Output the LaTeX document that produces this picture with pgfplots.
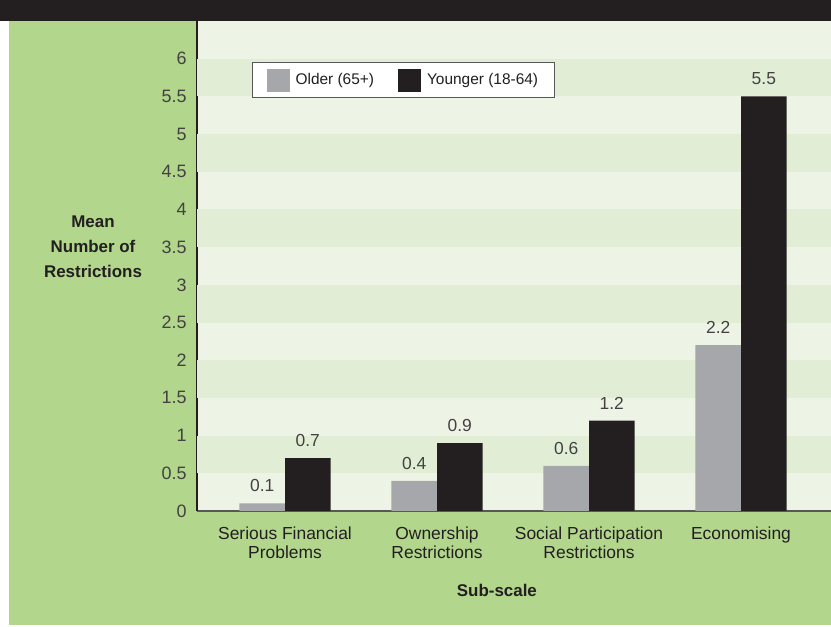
\documentclass[border=0pt]{standalone}
\usepackage{pgfplots}
\pgfplotsset{compat=1.18}
\usepackage{fontspec}
\setmainfont{Liberation Sans}
\definecolor{bgreen}{HTML}{B1D68C}
\definecolor{dark}{HTML}{231F20}
\definecolor{older}{HTML}{A6A7AB}
\definecolor{stripeA}{HTML}{EEF4E5}
\definecolor{stripeB}{HTML}{E1EED5}
\pgfplotsset{sqleg/.style={legend image code/.code={\fill[##1] (0bp,-11.5bp) rectangle (23bp,11.5bp); \path (27bp,0bp);}}}
\begin{document}
\begin{tikzpicture}[x=1bp,y=1bp]
\useasboundingbox (0,0) rectangle (831,627);
\fill[white] (0,0) rectangle (831,627);
\fill[bgreen] (9,2) rectangle (831,606);
\fill[dark] (0,606) rectangle (831,627);
\begin{axis}[
  at={(197bp,116bp)}, anchor=south west,
  scale only axis, width=634bp, height=490bp,
  xmin=-0.579, xmax=3.592, ymin=0, ymax=6.5,
  axis x line*=bottom, axis y line*=left,
  x axis line style={draw=dark!75, line width=1.2bp, -},
  y axis line style={draw=dark, line width=1.2bp, -},
  axis background/.style={fill=stripeA},
  major tick length=0pt,
  /pgf/number format/assume math mode=true,
  ytick={0,0.5,1,1.5,2,2.5,3,3.5,4,4.5,5,5.5,6},
  yticklabel style={font=\fontsize{18}{18}\selectfont, text=dark!85, xshift=-7bp},
  xtick={0,1,2,3},
  xticklabels={{Serious Financial\\Problems},{Ownership\\Restrictions},{Social Participation\\Restrictions},{Economising}},
  xticklabel style={font=\fontsize{17.5}{19}\selectfont, text=dark, align=center, yshift=-12bp},
  ylabel={Mean\\Number of\\Restrictions},
  ylabel style={rotate=-90, align=center, font=\fontsize{17}{25}\selectfont\bfseries, text=dark, at={(axis description cs:-0.164,0.540)}, anchor=center},
  xlabel={Sub-scale},
  xlabel style={font=\fontsize{17}{17}\selectfont\bfseries, text=dark, at={(axis description cs:0.473,-0.163)}, anchor=center},
  ybar, bar width=0.3,
  nodes near coords,
  every node near coord/.append style={font=\fontsize{17.5}{17.5}\selectfont, text=dark!85, yshift=8bp},
  legend columns=2,
  legend style={at={(0.087,0.916)}, anchor=north west, draw=dark!75, line width=0.8bp, fill=white,
    font=\fontsize{15.5}{15.5}\selectfont, text=dark, inner xsep=14bp, inner ysep=6bp,
    /tikz/every even column/.append style={column sep=22bp}},
]
\fill[stripeB] (axis cs:-0.579,0.5) rectangle (axis cs:3.592,1);
\fill[stripeB] (axis cs:-0.579,1.5) rectangle (axis cs:3.592,2);
\fill[stripeB] (axis cs:-0.579,2.5) rectangle (axis cs:3.592,3);
\fill[stripeB] (axis cs:-0.579,3.5) rectangle (axis cs:3.592,4);
\fill[stripeB] (axis cs:-0.579,4.5) rectangle (axis cs:3.592,5);
\fill[stripeB] (axis cs:-0.579,5.5) rectangle (axis cs:3.592,6);
\addplot[fill=older, draw=none, bar shift=-0.15, sqleg] coordinates {(0,0.1) (1,0.4) (2,0.6) (3,2.2)};
\addlegendentry{Older (65+)}
\addplot[fill=dark, draw=none, bar shift=0.15, sqleg] coordinates {(0,0.7) (1,0.9) (2,1.2) (3,5.5)};
\addlegendentry{Younger (18-64)}
\end{axis}
\end{tikzpicture}
\end{document}
